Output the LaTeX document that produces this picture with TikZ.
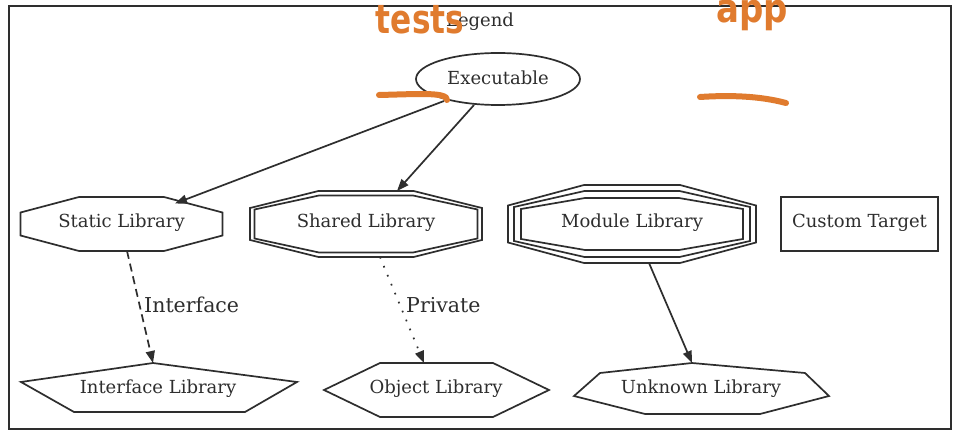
\documentclass[tikz,border=0pt]{standalone}
\usepackage{fontspec}
\setmainfont{DejaVu Serif}
\newfontfamily\handfont{DejaVu Sans}
\usetikzlibrary{arrows.meta}
\definecolor{ink}{HTML}{2E2E2E}
\definecolor{marker}{HTML}{E07B2E}
\newcommand\octpath[6]{(#1-#5,#2-#4) -- (#1+#5,#2-#4) -- (#1+#3,#2-#6) -- (#1+#3,#2+#6) -- (#1+#5,#2+#4) -- (#1-#5,#2+#4) -- (#1-#3,#2+#6) -- (#1-#3,#2-#6) -- cycle}
\begin{document}
\begin{tikzpicture}[x=1pt,y=-1pt,
  shapeline/.style={draw=ink,line width=1.7pt,line join=miter},
  lbl/.style={text=ink,font=\fontsize{18}{21}\selectfont,inner sep=0pt},
  elbl/.style={text=ink,font=\fontsize{20.5}{24}\selectfont,inner sep=0pt},
  edge/.style={draw=ink,line width=1.7pt,-{Triangle[length=12pt,width=9pt]}},
  hand/.style={text=marker,font=\handfont\bfseries\fontsize{40}{40}\selectfont,inner sep=0pt},
  stroke/.style={draw=marker,line width=6pt,line cap=round}]
\useasboundingbox (0,0) rectangle (958,443);
\fill[white] (0,0) rectangle (958,443);
% frame
\draw[ink,line width=1.7pt] (9,6) rectangle (951,429);
\node[lbl] (legend) at (480,22) {Legend};
% Executable
\draw[shapeline] (498,79) ellipse [x radius=82,y radius=26];
\node[lbl] (exe) at (498,78) {Executable};
% Static library (octagon)
\draw[shapeline] \octpath{121.5}{224}{101}{27}{42.5}{11.5};
\node[lbl] (static) at (121.5,223) {Static Library};
% Shared library (double octagon)
\draw[shapeline] \octpath{366}{224}{116}{33}{47.5}{16};
\draw[shapeline] \octpath{366}{224}{111.5}{28.5}{47}{14.5};
\node[lbl] (shared) at (366,223) {Shared Library};
% Module library (triple octagon)
\draw[shapeline] \octpath{632}{224}{124}{39}{48}{18.5};
\draw[shapeline] \octpath{632}{224}{118}{33}{47.5}{17};
\draw[shapeline] \octpath{632}{224}{111}{26}{47}{15};
\node[lbl] (module) at (632,223) {Module Library};
% Custom target
\draw[shapeline] (781,197) rectangle (938,251);
\node[lbl] (custom) at (859.5,223) {Custom Target};
% Interface library (house)
\draw[shapeline] (153,363) -- (297,382) -- (245,412) -- (74,412) -- (21,382) -- cycle;
\node[lbl] (iface) at (158,389) {Interface Library};
% Object library (hexagon)
\draw[shapeline] (380,363) -- (493,363) -- (549,390) -- (493,417) -- (380,417) -- (324,390) -- cycle;
\node[lbl] (object) at (436,389) {Object Library};
% Unknown library (septagon)
\draw[shapeline] (692,363) -- (805,373) -- (829,396) -- (760,414) -- (645,414) -- (574,396) -- (600,373) -- cycle;
\node[lbl] (unknown) at (701,389) {Unknown Library};
% edge end points
\coordinate (exeA) at (444,101);
\coordinate (staticT) at (175,203.5);
\coordinate (exeB) at (474,105);
\coordinate (sharedT) at (397,191);
\coordinate (staticB) at (127,251);
\coordinate (ifaceT) at (153,363);
\coordinate (sharedB) at (380,257);
\coordinate (objectT) at (424,363);
\coordinate (moduleB) at (649,263);
\coordinate (unknownT) at (692,363);
% edges
\draw[edge] (exeA) -- (staticT);
\draw[edge] (exeB) -- (sharedT);
\draw[edge,dash pattern=on 8pt off 5pt] (staticB) -- (ifaceT);
\draw[edge,dash pattern=on 1.7pt off 8pt] (sharedB) -- (objectT);
\draw[edge] (moduleB) -- (unknownT);
\node[elbl,anchor=west] (ilbl) at (144,305) {Interface};
\node[elbl,anchor=west] (plbl) at (406,305) {Private};
% orange annotations
\node[hand] (tests) at (420,20) {\scalebox{0.78}[1]{tests}};
\node[hand] (app) at (752,15) {\scalebox{0.85}[1]{app}};
\coordinate (u1a) at (379,95);
\coordinate (u1b) at (447,100);
\coordinate (u2a) at (700,97);
\coordinate (u2b) at (786,103);
\draw[stroke] (u1a) .. controls (420,94) and (447,92) .. (u1b);
\draw[stroke] (u2a) .. controls (730,95) and (760,96) .. (u2b);
\end{tikzpicture}
\end{document}
